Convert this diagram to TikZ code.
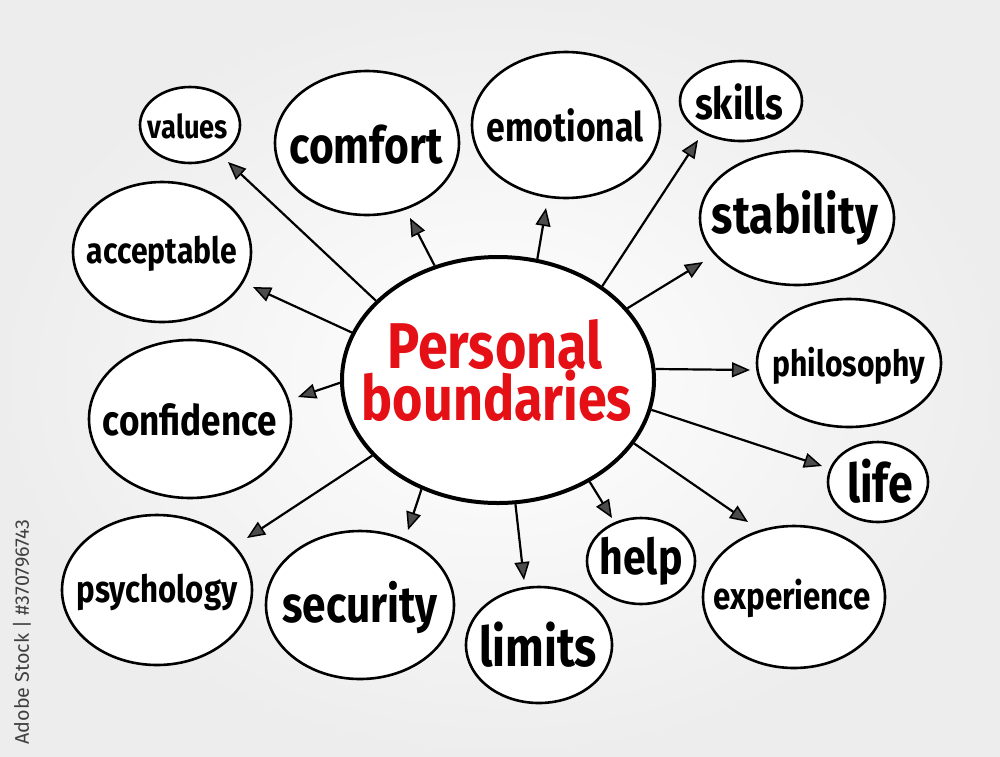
\documentclass[tikz,border=0pt]{standalone}
\usepackage{fontspec}
\setmainfont{Fira Sans}
\usetikzlibrary{shapes.geometric,arrows.meta}
\definecolor{tred}{RGB}{228,16,22}
\newcommand{\fitw}[2]{\scalebox{1}[1.2]{\resizebox{#1pt}{!}{#2}}}
\begin{document}
\begin{tikzpicture}[x=1pt,y=-1pt,
  bub/.style={draw=black, line width=2.6pt, ellipse, inner sep=0pt, fill=white},
  lbl/.style={font=\bfseries, text=black, inner sep=0pt},
  hubst/.style={draw=black, line width=4pt, ellipse, inner sep=0pt, fill=white},
  ttl/.style={font=\bfseries, text=tred, inner sep=0pt, anchor=base},
  conn/.style={line width=2.2pt, -{Triangle[length=18pt,width=15pt,fill=black!70,line width=1.5pt]}}]
\useasboundingbox (0,0) rectangle (1000,756);
\shade[inner color=white, outer color=black!7] (0,0) rectangle (1000,756);

% central node
\node[hubst, minimum width=312pt, minimum height=246pt] (hub) at (498,380) {};
\node[ttl] (title1) at (495,368) {\fitw{215}{Personal}};
\node[ttl] (title2) at (497,420) {\fitw{270}{boundaries}};

% satellites
\node[bub, minimum width=100pt, minimum height=76pt]  (values)     at (190,125) {};
\node[bub, minimum width=184pt, minimum height=144pt] (comfort)    at (367,143) {};
\node[bub, minimum width=188pt, minimum height=146pt] (emotional)  at (566,125) {};
\node[bub, minimum width=122pt, minimum height=80pt]  (skills)     at (741,101) {};
\node[bub, minimum width=194pt, minimum height=134pt] (stability)  at (797,218) {};
\node[bub, minimum width=178pt, minimum height=140pt] (acceptable) at (162,252) {};
\node[bub, minimum width=184pt, minimum height=128pt] (philosophy) at (849,363) {};
\node[bub, minimum width=202pt, minimum height=158pt] (confidence) at (190,419) {};
\node[bub, minimum width=100pt, minimum height=80pt]  (life)       at (878,482) {};
\node[bub, minimum width=190pt, minimum height=150pt] (psychology) at (157,590) {};
\node[bub, minimum width=188pt, minimum height=148pt] (security)   at (360,605) {};
\node[bub, minimum width=146pt, minimum height=116pt] (limits)     at (539,645) {};
\node[bub, minimum width=108pt, minimum height=86pt]  (help)       at (641,561) {};
\node[bub, minimum width=182pt, minimum height=142pt] (experience) at (794,597) {};

% labels
\node[lbl] (values-t)     at (188,126) {\fitw{80}{values}};
\node[lbl] (comfort-t)    at (366,145) {\fitw{153}{comfort}};
\node[lbl] (emotional-t)  at (565,125) {\fitw{157}{emotional}};
\node[lbl] (skills-t)     at (739,102) {\fitw{88}{skills}};
\node[lbl] (stability-t)  at (795,218) {\fitw{166}{stability}};
\node[lbl] (acceptable-t) at (162,254) {\fitw{150}{acceptable}};
\node[lbl] (philosophy-t) at (849,366) {\fitw{153}{philosophy}};
\node[lbl] (confidence-t) at (190,420) {\fitw{174}{confidence}};
\node[lbl] (life-t)       at (880,481) {\fitw{66}{life}};
\node[lbl] (psychology-t) at (157,592) {\fitw{161}{psychology}};
\node[lbl] (security-t)   at (360,608) {\fitw{155}{security}};
\node[lbl] (limits-t)     at (538,645) {\fitw{118}{limits}};
\node[lbl] (help-t)       at (641,561) {\fitw{83}{help}};
\node[lbl] (experience-t) at (792,598) {\fitw{157}{experience}};

% arrow tips
\coordinate (a-values)     at (228,162);
\coordinate (a-comfort)    at (410,218);
\coordinate (a-emotional)  at (546,208);
\coordinate (a-skills)     at (698,140);
\coordinate (a-stability)  at (703,262);
\coordinate (a-acceptable) at (253,287);
\coordinate (a-philosophy) at (750,370);
\coordinate (a-confidence) at (298,397);
\coordinate (a-life)       at (822,466);
\coordinate (a-psychology) at (247,538);
\coordinate (a-security)   at (408,530);
\coordinate (a-limits)     at (524,580);
\coordinate (a-help)       at (612,518);
\coordinate (a-experience) at (748,522);

\draw[conn] (hub.147.6) -- (a-values);
\draw[conn] (hub.119.9) -- (a-comfort);
\draw[conn] (hub.72.3)  -- (a-emotional);
\draw[conn] (hub.42.2)  -- (a-skills);
\draw[conn] (hub.29.7)  -- (a-stability);
\draw[conn] (hub.162.9) -- (a-acceptable);
\draw[conn] (hub.4.3)   -- (a-philosophy);
\draw[conn] (hub.181.1) -- (a-confidence);
\draw[conn] (hub.-11.9) -- (a-life);
\draw[conn] (hub.211.4) -- (a-psychology);
\draw[conn] (hub.235.8) -- (a-security);
\draw[conn] (hub.278.3) -- (a-limits);
\draw[conn] (hub.-48.8) -- (a-help);
\draw[conn] (hub.-25.4) -- (a-experience);

% credit line
\node[rotate=90, text=black!75, inner sep=0pt] (credit) at (22,632) {\resizebox{225pt}{!}{Adobe Stock | \#370796743}};
\end{tikzpicture}
\end{document}
